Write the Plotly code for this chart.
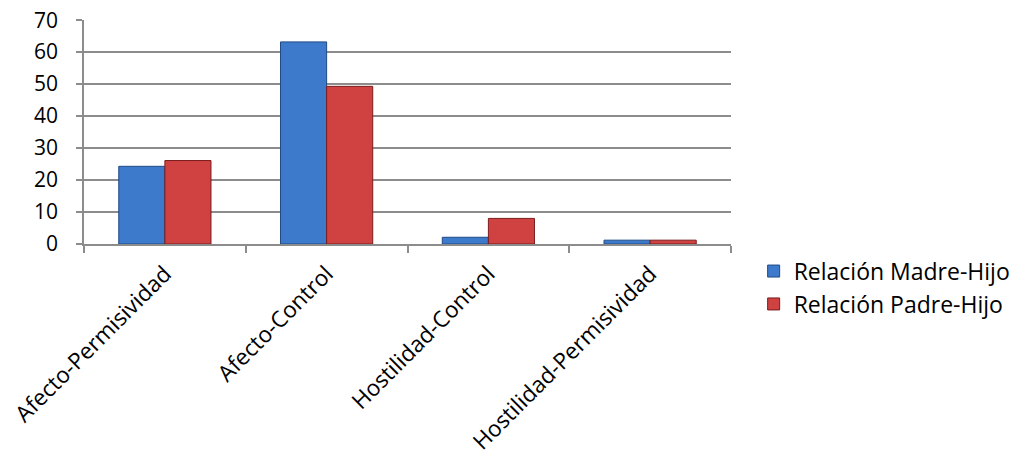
import plotly.graph_objects as go

categories = ["Afecto-Permisividad", "Afecto-Control", "Hostilidad-Control", "Hostilidad-Permisividad"]
madre = [24.3, 63.2, 2.1, 1.2]
padre = [26.1, 49.3, 8.0, 1.2]
series_names = ["Relación Madre-Hijo", "Relación Padre-Hijo"]

fig = go.Figure()
fig.add_trace(go.Bar(x=categories, y=madre, name=series_names[0],
                     marker=dict(color="#3d7acb", line=dict(color="#1f4a85", width=1))))
fig.add_trace(go.Bar(x=categories, y=padre, name=series_names[1],
                     marker=dict(color="#d04242", line=dict(color="#7a1c1c", width=1))))

fig.update_layout(
    width=1024, height=461,
    margin=dict(l=84, r=293, t=20, b=217, autoexpand=False),
    paper_bgcolor="white", plot_bgcolor="white",
    barmode="group", bargap=0.43, bargroupgap=0,
    font=dict(family="Open Sans, Lato, sans-serif", color="#000000"),
    legend=dict(x=1.035, y=-0.025, xanchor="left", yanchor="top",
                font=dict(size=23), tracegroupgap=2, bgcolor="rgba(0,0,0,0)"),
    showlegend=True,
)
fig.update_xaxes(type="category", showline=True, linecolor="#8c8c8c", linewidth=1.5,
                 ticks="outside", tickson="boundaries", ticklen=7, tickcolor="#8c8c8c",
                 tickwidth=1.5, tickangle=-45, tickfont=dict(size=22.5), showgrid=False,
                 automargin=False, ticklabelstandoff=6)
fig.update_yaxes(range=[0, 70.05], tickmode="linear", tick0=0, dtick=10,
                 showline=True, linecolor="#8c8c8c", linewidth=1.5,
                 ticks="outside", ticklen=6, tickcolor="#8c8c8c", tickwidth=1.5,
                 showgrid=True, gridcolor="#8c8c8c", gridwidth=1.5,
                 tickfont=dict(size=21), zeroline=False, automargin=False,
                 ticklabelstandoff=14, ticklabeloverflow="allow")

fig.write_html("out.html", config={"displayModeBar": False},
               post_script="document.body.style.margin='0';document.body.style.overflow='hidden';")
